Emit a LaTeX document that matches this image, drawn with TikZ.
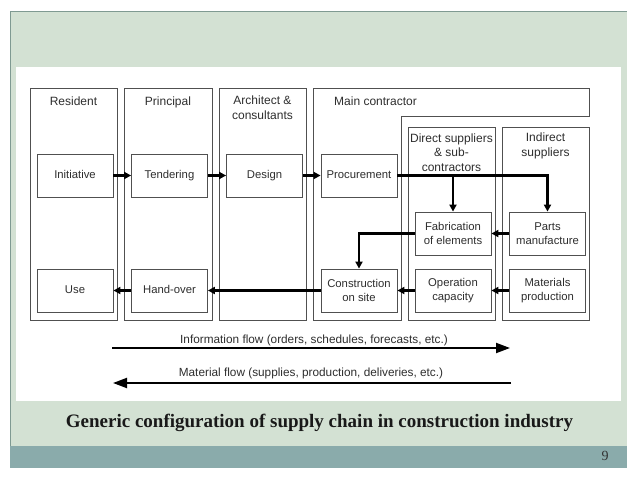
\documentclass[tikz,border=0pt]{standalone}
\usepackage{fontspec}
\setmainfont{Liberation Sans}
\newfontfamily\capfont{Liberation Serif}
\usetikzlibrary{arrows.meta}
\definecolor{panelgreen}{HTML}{D3E1D3}
\definecolor{panelborder}{HTML}{7F9A92}
\definecolor{tealband}{HTML}{8AABAB}
\definecolor{boxline}{HTML}{505050}
\definecolor{txt}{HTML}{2E2E2E}
\tikzset{
  col/.style={draw=boxline, line width=0.8pt},
  proc/.style={draw=boxline, line width=0.8pt, minimum width=76pt, minimum height=43pt, align=center, text=txt, font=\fontsize{11.3}{14.5}\selectfont, inner sep=1pt},
  proc1/.style={proc, text height=8.1pt, text depth=2.3pt},
  ttl/.style={align=center, text=txt, font=\fontsize{12}{14.5}\selectfont, inner sep=0pt},
  ttl1/.style={ttl, text height=8.6pt, text depth=2.4pt},
  arr/.style={line width=2.2pt, -{Triangle[length=7pt,width=7pt]}},
  flow/.style={line width=2pt, -{Triangle[length=14pt,width=10pt]}},
  flowlbl/.style={text=txt, font=\fontsize{11.8}{13}\selectfont, inner sep=0pt}
}
\begin{document}
\begin{tikzpicture}[x=1pt,y=-1pt]
\useasboundingbox (0,0) rectangle (638,479);
\fill[white] (0,0) rectangle (638,479);
% slide panels
\fill[panelgreen] (10,11) rectangle (627,446);
\draw[panelborder, line width=1pt] (10,446) -- (10,11) -- (627,11);
\fill[tealband] (10,446) rectangle (627,468);
\fill[white] (16,67) rectangle (621,401);
% columns
\draw[col] (30,88) rectangle (117,320);
\draw[col] (124,88) rectangle (212,320);
\draw[col] (219,88) rectangle (306,320);
\draw[col] (313,88) -- (589,88) -- (589,116) -- (401,116) -- (401,320) -- (313,320) -- cycle;
\draw[col] (408,127) rectangle (495,320);
\draw[col] (502,127) rectangle (589,320);
% column titles
\node[ttl1] (tres) at (73.5,102) {Resident};
\node[ttl1] (tpri) at (168,102) {Principal};
\node[ttl] (tarc) at (262.5,107.5) {Architect \&\\consultants};
\node[ttl1, anchor=west] (tmc) at (334,102) {Main contractor};
\node[ttl] (tdir) at (451.5,152.5) {Direct suppliers\\\& sub-\\contractors};
\node[ttl] (tind) at (545.5,146) {Indirect\\suppliers};
% process boxes
\node[proc1] (ini) at (75,175.5) {Initiative};
\node[proc1] (ten) at (169.5,175.5) {Tendering};
\node[proc1] (des) at (264.5,175.5) {Design};
\node[proc1] (pro) at (359,175.5) {Procurement};
\node[proc] (fab) at (453,233.5) {Fabrication\\of elements};
\node[proc] (par) at (547.5,233.5) {Parts\\manufacture};
\node[proc1] (use) at (75,290.5) {Use};
\node[proc1] (han) at (169.5,290.5) {Hand-over};
\node[proc] (con) at (359,290.5) {Construction\\on site};
\node[proc] (ope) at (453,290.5) {Operation\\capacity};
\node[proc] (mat) at (547.5,290.5) {Materials\\production};
% arrows
\draw[arr] (ini) -- (ten);
\draw[arr] (ten) -- (des);
\draw[arr] (des) -- (pro);
\draw[arr] (pro.east) -| (par.north);
\draw[arr] (fab.north |- pro.east) -- (fab.north);
\draw[arr] (par) -- (fab);
\draw[arr] (fab.west) -| (con.north);
\draw[arr] (mat) -- (ope);
\draw[arr] (ope) -- (con);
\draw[arr] (con) -- (han);
\draw[arr] (han) -- (use);
% flows
\coordinate (i1) at (112,348);
\coordinate (i2) at (510,348);
\coordinate (m1) at (511,383);
\coordinate (m2) at (113,383);
\draw[flow] (i1) -- (i2);
\draw[flow] (m1) -- (m2);
\node[flowlbl] (il) at (314,340) {Information flow (orders, schedules, forecasts, etc.)};
\node[flowlbl] (ml) at (311,373.5) {Material flow (supplies, production, deliveries, etc.)};
% caption
\node[inner sep=0pt, font=\capfont\bfseries\fontsize{19}{22}\selectfont, text=black!90] (cap) at (319.5,423) {Generic configuration of supply chain in construction industry};
\node[inner sep=0pt, font=\capfont\fontsize{14}{16}\selectfont, text=black!80] (pg) at (605,456) {9};
\end{tikzpicture}
\end{document}
